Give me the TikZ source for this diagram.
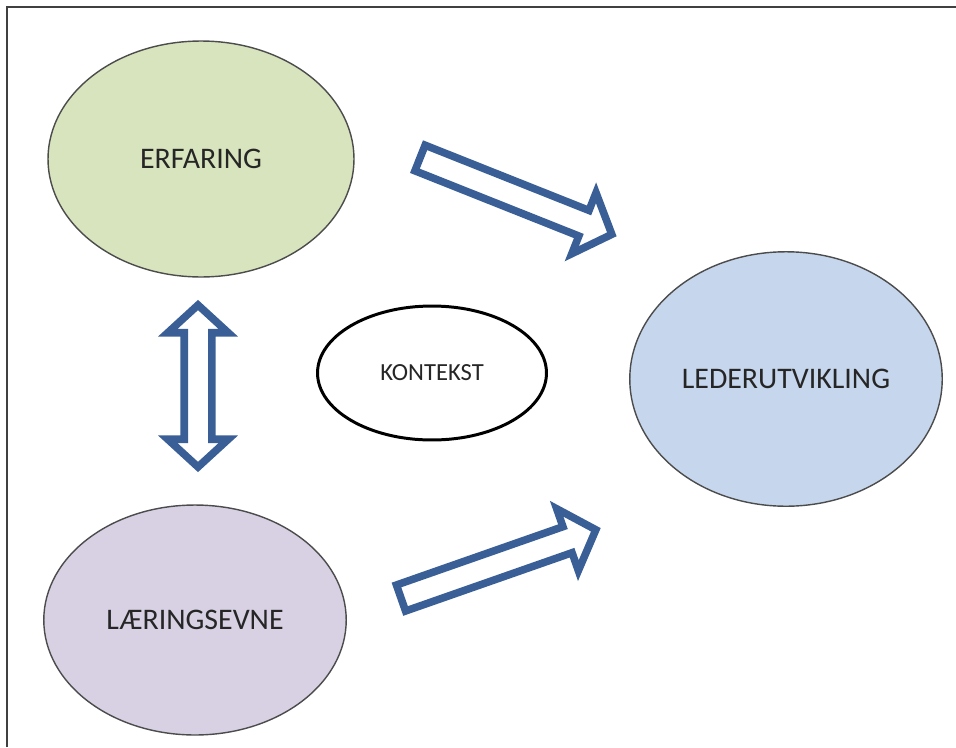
\documentclass[tikz,border=0pt]{standalone}
\usepackage{fontspec}
\setmainfont{Carlito}
\usetikzlibrary{shapes.geometric,shapes.arrows}

\definecolor{erfgreen}{HTML}{D7E4BD}
\definecolor{laerlilac}{HTML}{D8D0E3}
\definecolor{lederblue}{HTML}{C6D6EC}
\definecolor{arrowblue}{HTML}{3A5F96}
\definecolor{txtgray}{HTML}{262626}

\tikzset{
	bubble/.style={ellipse, draw=black!70, line width=0.8pt, text=txtgray, inner sep=0pt, font=\fontsize{17}{19}\selectfont},
	fatarrow/.style={single arrow, draw=arrowblue, fill=white, line width=4.3pt, outer sep=0pt, minimum height=4.13cm, inner xsep=0pt, inner ysep=0.2cm, single arrow head extend=0.38cm, single arrow tip angle=95, anchor=tail},
	twoarrow/.style={double arrow, draw=arrowblue, fill=white, line width=4.3pt, outer sep=0pt, minimum height=3.24cm, inner xsep=0pt, inner ysep=0.2cm, double arrow head extend=0.33cm, double arrow tip angle=95}
}

\begin{document}
\begin{tikzpicture}[x=0.02cm, y=-0.02cm]
		\useasboundingbox (0,0) rectangle (956,747);
		\draw [black!75, line width=1.1pt] (7,747) -- (7,7) -- (956,7);

		\node [bubble, fill=erfgreen, minimum width=6.12cm, minimum height=4.72cm] at (201,159) (erfaring) {ERFARING};
		\node [bubble, fill=laerlilac, minimum width=6.05cm, minimum height=4.6cm] at (195,620) (laering) {LÆRINGSEVNE};
		\node [bubble, fill=lederblue, minimum width=6.25cm, minimum height=5.09cm] at (786,379) (leder) {LEDERUTVIKLING};
		\node [bubble, draw=black, fill=white, line width=1.7pt, minimum width=4.58cm, minimum height=2.68cm, font=\fontsize{14}{16}\selectfont] at (432,373) (kontekst) {KONTEKST};

		\node [fatarrow, rotate=-21.7] at (420,158) (erftil) {};
		\node [fatarrow, rotate=19.3] at (401,598) (laertil) {};
		\node [twoarrow, rotate=90] at (198,386) (mellom) {};

	\end{tikzpicture}
\end{document}
